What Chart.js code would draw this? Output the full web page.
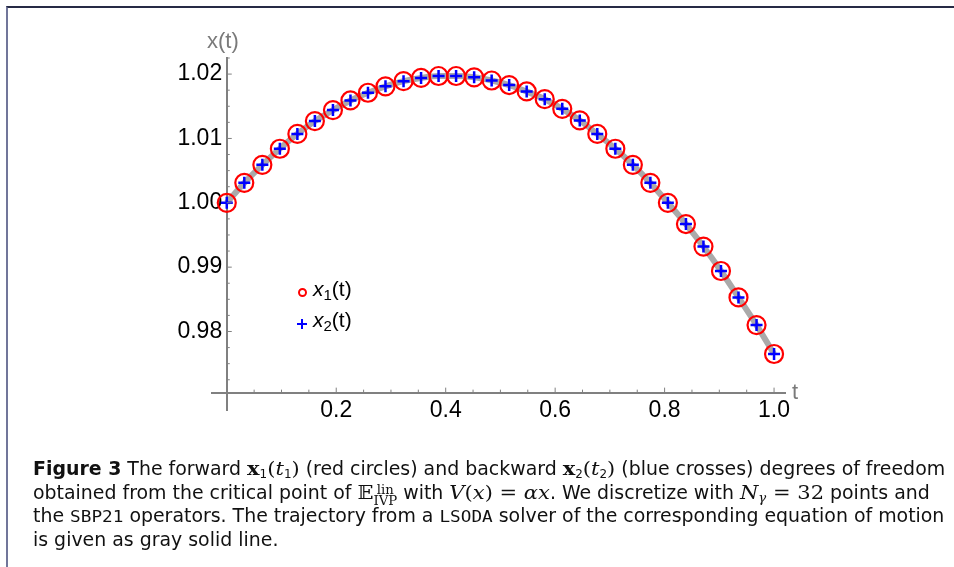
<!DOCTYPE html>
<html>
<head>
<meta charset="utf-8">
<script src="https://cdn.jsdelivr.net/npm/chart.js@4.4.1/dist/chart.umd.min.js"></script>
<style>
  html, body { margin: 0; padding: 0; background: #fff; }
  #page { position: relative; width: 954px; height: 567px; overflow: hidden; }
  #frame { position: absolute; left: 6px; top: 6px; width: 960px; height: 580px;
           border-top: 2px solid #262a45; border-left: 2px solid #71769a; }
  #chart { position: absolute; left: 0; top: 0; }
  .lbl { position: absolute; font-family: "Liberation Sans", Arial, sans-serif; font-size: 22px; color: #7a7a7a; line-height: 1; }
  .leg { position: absolute; font-family: "Liberation Sans", Arial, sans-serif; font-size: 21px; color: #000; line-height: 1; white-space: nowrap; }
  .leg i { font-style: italic; }
  .leg sub { font-size: 15px; vertical-align: -4px; }
  .dot { position: absolute; width: 5px; height: 5px; border: 2px solid #ff0000; border-radius: 50%; }
  .plus { position: absolute; width: 10px; height: 10px; }
  .plus::before, .plus::after { content: ""; position: absolute; background: #0000ff; }
  .plus::before { left: 0; top: 4px; width: 10px; height: 2px; }
  .plus::after { left: 4px; top: 0; width: 2px; height: 10px; }
  #caption { position: absolute; left: 33px; top: 457px; font-family: "DejaVu Sans Condensed", "Liberation Sans Narrow", "Liberation Sans", sans-serif;
             font-size: 19px; color: #111; }
  #caption .line { white-space: nowrap; height: 23.5px; line-height: 23.5px; transform-origin: 0 50%; }
  #caption .mb { font-family: "DejaVu Serif", serif; font-weight: bold; }
  #caption .mi { font-family: "DejaVu Serif", "Liberation Serif", serif; font-style: italic; }
  #caption .mr { font-family: "DejaVu Serif", "Liberation Serif", serif; }
  #caption sub { font-size: 12px; vertical-align: -3px; line-height: 0; }
  #caption .stk { display: inline-block; vertical-align: -6px; line-height: 11px; font-size: 12px; font-family: "DejaVu Serif", serif; text-align: center; }
  #caption tt { font-family: "DejaVu Sans Mono", "Liberation Mono", monospace; font-size: 16px; }
</style>
</head>
<body>
<div id="page">
  <div id="frame"></div>
  <canvas id="chart" width="954" height="567"></canvas>
  <div class="lbl" style="left:207px; top:30px;">x(t)</div>
  <div class="lbl" style="left:792px; top:381px;">t</div>

  <div class="dot" style="left:298px; top:288px;"></div>
  <div class="leg" style="left:313px; top:278px;"><i>x</i><sub>1</sub>(t)</div>
  <div class="plus" style="left:297px; top:319px;"></div>
  <div class="leg" style="left:313px; top:309px;"><i>x</i><sub>2</sub>(t)</div>

  <div id="caption">
    <div class="line"><b>Figure 3</b> The forward <span class="mb">x</span><sub>1</sub><span class="mr">(</span><span class="mi">t</span><sub>1</sub><span class="mr">)</span> (red circles) and backward <span class="mb">x</span><sub>2</sub><span class="mr">(</span><span class="mi">t</span><sub>2</sub><span class="mr">)</span> (blue crosses) degrees of freedom</div>
    <div class="line">obtained from the critical point of <span class="mr">𝔼</span><span class="stk">lin<br>IVP</span> with <span class="mi">V</span><span class="mr">(</span><span class="mi">x</span><span class="mr">) = </span><span class="mi">αx</span>. We discretize with <span class="mi">N</span><sub class="mi">γ</sub><span class="mr"> = 32</span> points and</div>
    <div class="line">the <tt>SBP21</tt> operators. The trajectory from a <tt>LSODA</tt> solver of the corresponding equation of motion</div>
    <div class="line">is given as gray solid line.</div>
  </div>
</div>

<script>
// grid points t_i and the two sets of degrees of freedom
const tValues = [0, 0.032, 0.065, 0.097, 0.129, 0.161, 0.194, 0.226, 0.258, 0.290, 0.323,
  0.355, 0.387, 0.419, 0.452, 0.484, 0.516, 0.548, 0.581, 0.613, 0.645, 0.677, 0.710,
  0.742, 0.774, 0.806, 0.839, 0.871, 0.903, 0.935, 0.968, 1.0];

const x1Values = [1.0000, 1.0031, 1.0059, 1.0084, 1.0107, 1.0127, 1.0144, 1.0159, 1.0171,
  1.0181, 1.0189, 1.0194, 1.0197, 1.0197, 1.0195, 1.0190, 1.0183, 1.0173, 1.0161, 1.0146,
  1.0128, 1.0107, 1.0084, 1.0059, 1.0031, 1.0000, 0.9967, 0.9932, 0.9894, 0.9853, 0.9810, 0.9765];

const x2Values = [1.0000, 1.0031, 1.0059, 1.0084, 1.0107, 1.0127, 1.0144, 1.0159, 1.0171,
  1.0181, 1.0189, 1.0194, 1.0197, 1.0197, 1.0195, 1.0190, 1.0183, 1.0173, 1.0161, 1.0146,
  1.0128, 1.0107, 1.0084, 1.0059, 1.0031, 1.0000, 0.9967, 0.9932, 0.9894, 0.9853, 0.9810, 0.9765];

// LSODA trajectory (gray line) follows the same points
const lsodaValues = x1Values;

const xTickLabels = [0.2, 0.4, 0.6, 0.8, 1.0];
const yTickLabels = [0.98, 0.99, 1.00, 1.01, 1.02];
const xMinorTicks = [0.05, 0.1, 0.15, 0.25, 0.3, 0.35, 0.45, 0.5, 0.55, 0.65, 0.7, 0.75, 0.85, 0.9, 0.95];
const yMinorTicks = [0.9725, 0.975, 0.9775, 0.9825, 0.985, 0.9875, 0.9925, 0.995, 0.9975,
  1.0025, 1.005, 1.0075, 1.0125, 1.015, 1.0175, 1.0225];

const AXIS_COLOR = "#808080";

function pts(ys) {
  return tValues.map((t, i) => ({ x: t, y: ys[i] }));
}

// small inward tick marks, Mathematica style
const tickMarks = {
  id: "tickMarks",
  afterDraw(chart) {
    const { ctx, scales: { x, y } } = chart;
    const x0 = x.getPixelForValue(0);
    const y0 = y.getPixelForValue(0.9705);
    ctx.save();
    ctx.strokeStyle = AXIS_COLOR;
    ctx.lineWidth = 1;
    ctx.beginPath();
    xTickLabels.forEach((v) => { const p = x.getPixelForValue(v); ctx.moveTo(p, y0); ctx.lineTo(p, y0 - 5); });
    xMinorTicks.forEach((v) => { const p = x.getPixelForValue(v); ctx.moveTo(p, y0); ctx.lineTo(p, y0 - 3); });
    yTickLabels.forEach((v) => { const p = y.getPixelForValue(v); ctx.moveTo(x0, p); ctx.lineTo(x0 + 5, p); });
    yMinorTicks.forEach((v) => { const p = y.getPixelForValue(v); ctx.moveTo(x0, p); ctx.lineTo(x0 + 3, p); });
    ctx.stroke();
    ctx.restore();
  },
};

new Chart(document.getElementById("chart"), {
  type: "scatter",
  data: {
    datasets: [
      {
        label: "LSODA",
        data: pts(lsodaValues),
        showLine: true,
        borderColor: "#aaaaaa",
        borderWidth: 6,
        pointRadius: 0,
        cubicInterpolationMode: "monotone",
        order: 3,
      },
      {
        label: "x1(t)",
        data: pts(x1Values),
        pointStyle: "circle",
        pointRadius: 9,
        pointBorderWidth: 2.2,
        pointBorderColor: "#ff0000",
        pointBackgroundColor: "rgba(0,0,0,0)",
        order: 2,
      },
      {
        label: "x2(t)",
        data: pts(x2Values),
        pointStyle: "cross",
        pointRadius: 6,
        pointBorderWidth: 2.5,
        pointBorderColor: "#0000ff",
        order: 1,
      },
    ],
  },
  options: {
    responsive: false,
    animation: false,
    clip: false,
    layout: { padding: { left: 212, top: 58, right: 169, bottom: 157 } },
    plugins: { legend: { display: false }, tooltip: { enabled: false } },
    scales: {
      x: {
        type: "linear",
        min: -0.027,
        max: 1.02,
        position: { y: 0.9705 },
        grid: { drawOnChartArea: false, drawTicks: false },
        border: { color: AXIS_COLOR, width: 2 },
        afterBuildTicks: (s) => { s.ticks = xTickLabels.map((v) => ({ value: v })); },
        ticks: {
          padding: 4,
          color: "#000",
          font: { family: "Liberation Sans", size: 23 },
          callback: (v) => v.toFixed(1),
        },
      },
      y: {
        type: "linear",
        min: 0.9678,
        max: 1.0225,
        position: { x: 0 },
        grid: { drawOnChartArea: false, drawTicks: false },
        border: { color: AXIS_COLOR, width: 2 },
        afterBuildTicks: (s) => { s.ticks = yTickLabels.map((v) => ({ value: v })); },
        ticks: {
          padding: 4,
          color: "#000",
          font: { family: "Liberation Sans", size: 23 },
          // thin space keeps the label clear of the axis line
          callback: (v) => v.toFixed(2) + "\u2009",
        },
      },
    },
  },
  plugins: [tickMarks],
});

// stretch each caption line to the justified width of the original
const lines = document.querySelectorAll("#caption .line");
const target = 912;
let s0 = 1;
lines.forEach((el, i) => {
  const w = el.scrollWidth;
  if (i === 0) s0 = target / w;
  const s = i < 3 ? target / w : s0;
  el.style.transform = `scaleX(${s})`;
});
</script>
</body>
</html>
